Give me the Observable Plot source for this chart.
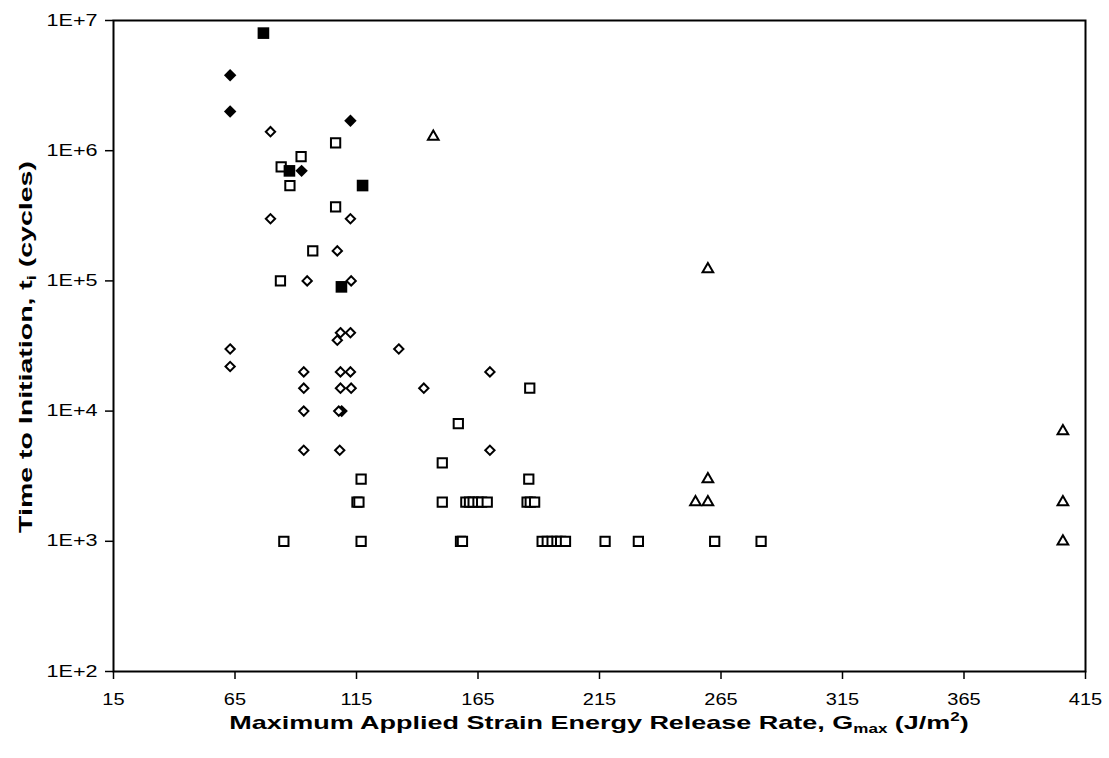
<!DOCTYPE html>
<html>
<head>
<meta charset="utf-8">
<script src="https://cdn.jsdelivr.net/npm/d3@7"></script>
<script src="https://cdn.jsdelivr.net/npm/@observablehq/plot@0.6"></script>
<style>
  html, body { margin: 0; padding: 0; background: #fff; }
  #chart { width: 1109px; height: 758px; }
</style>
</head>
<body>
<div id="chart"></div>
<script>
// ---- Data ----
const xTicks = [15, 65, 115, 165, 215, 265, 315, 365, 415];
const yTicks = [1e2, 1e3, 1e4, 1e5, 1e6, 1e7];

// filled diamonds
const filledDiamondG = [63, 63, 112.5, 92.4, 108.9];
const filledDiamondT = [3.8e6, 2e6, 1.7e6, 7e5, 1e4];

// filled squares
const filledSquareG = [76.7, 87.4, 117.5, 108.8];
const filledSquareT = [8e6, 7e5, 5.4e5, 9e4];

// open diamonds
const openDiamondG = [79.6, 79.6, 112.5, 107.1, 94.7, 112.8, 108.4, 112.5, 107.1, 63, 132.4, 63,
  93.3, 108.4, 112.5, 93.3, 108.4, 112.8, 93.3, 107.7, 93.3, 108.1, 169.9, 142.7, 169.9];
const openDiamondT = [1.4e6, 3e5, 3e5, 1.7e5, 1e5, 1e5, 4e4, 4e4, 3.5e4, 3e4, 3e4, 2.2e4,
  2e4, 2e4, 2e4, 1.5e4, 1.5e4, 1.5e4, 1e4, 1e4, 5e3, 5e3, 2e4, 1.5e4, 5e3];

// open squares
const openSquareG = [106.4, 92.2, 84, 87.6, 106.4, 97, 83.7, 116.9, 115.2, 116, 85.1, 116.9,
  186.3, 156.9, 150.3, 185.9, 150.3,
  160, 161.5, 163, 165, 166.5, 168.8, 185.2, 186.5, 188.3,
  157.8, 158.6, 191.4, 193.5, 195.5, 197.5, 199, 201, 217.3, 231, 262.4, 281.5];
const openSquareT = [1.15e6, 9e5, 7.5e5, 5.4e5, 3.7e5, 1.7e5, 1e5, 3e3, 2e3, 2e3, 1e3, 1e3,
  1.5e4, 8e3, 4e3, 3e3, 2e3,
  2e3, 2e3, 2e3, 2e3, 2e3, 2e3, 2e3, 2e3, 2e3,
  1e3, 1e3, 1e3, 1e3, 1e3, 1e3, 1e3, 1e3, 1e3, 1e3, 1e3, 1e3];

// open triangles
const triangleG = [146.6, 259.6, 259.6, 254.5, 259.6, 405.7, 405.7, 405.7];
const triangleT = [1.28e6, 1.23e5, 3e3, 2e3, 2e3, 7e3, 2e3, 1e3];

const toRows = (xs, ys) => xs.map((g, i) => ({g, t: ys[i]}));

const chart = Plot.plot({
  width: 1109,
  height: 758,
  marginLeft: 113,
  marginRight: 24,
  marginTop: 20,
  marginBottom: 87,
  style: {
    fontFamily: "'Liberation Sans', Arial, sans-serif",
    fontSize: "16px",
    color: "black",
    background: "white",
    overflow: "visible"
  },
  x: {domain: [15, 415], ticks: xTicks, tickSize: 8, tickPadding: 14, label: null, tickFormat: d => String(d)},
  y: {type: "log", domain: [1e2, 1e7], ticks: yTicks, tickSize: 8, tickPadding: 8, label: null,
      tickFormat: d => "1E+" + Math.round(Math.log10(d))},
  marks: [
    Plot.frame({stroke: "black", strokeWidth: 2}),
    Plot.dot(toRows(openSquareG, openSquareT), {x: "g", y: "t", symbol: d3.symbolSquare2, r: 5.9, fill: "white", stroke: "black", strokeWidth: 2}),
    Plot.dot(toRows(filledSquareG, filledSquareT), {x: "g", y: "t", symbol: d3.symbolSquare2, r: 7.4, fill: "black", stroke: "none"}),
    Plot.dot(toRows(filledDiamondG, filledDiamondT), {x: "g", y: "t", symbol: d3.symbolDiamond2, r: 5.6, fill: "black", stroke: "none"}),
    Plot.dot(toRows(openDiamondG, openDiamondT), {x: "g", y: "t", symbol: d3.symbolDiamond2, r: 4.2, fill: "white", stroke: "black", strokeWidth: 2}),
    Plot.dot(toRows(triangleG, triangleT), {x: "g", y: "t", symbol: d3.symbolTriangle2, r: 5.1, fill: "white", stroke: "black", strokeWidth: 2})
  ]
});

document.getElementById("chart").appendChild(chart);

// stretch tick labels horizontally as in the reference
chart.querySelectorAll('g[aria-label="y-axis tick label"] text').forEach(t => {
  const tr = t.getAttribute("transform") || "";
  t.setAttribute("transform", tr + " scale(1.35,1)");
});
chart.querySelectorAll('g[aria-label="x-axis tick label"] text').forEach(t => {
  const tr = t.getAttribute("transform") || "";
  t.setAttribute("transform", tr + " scale(1.25,1)");
});
chart.querySelectorAll('g[aria-label$="tick"]').forEach(g => g.setAttribute("stroke-width", "1.5"));

const svg = d3.select(chart);
// y axis title
const yt = svg.append("text")
  .attr("transform", "translate(32,347) rotate(-90) scale(1.5,1)")
  .attr("text-anchor", "middle")
  .attr("font-weight", "bold")
  .attr("font-size", 19)
  .attr("fill", "black");
yt.append("tspan").text("Time to Initiation, t");
yt.append("tspan").attr("font-size", 12).attr("dy", 4).text("i");
yt.append("tspan").attr("dy", -4).text(" (cycles)");

// x axis title
const xt = svg.append("text")
  .attr("transform", "translate(599,729) scale(1.42,1)")
  .attr("text-anchor", "middle")
  .attr("font-weight", "bold")
  .attr("font-size", 19)
  .attr("fill", "black");
xt.append("tspan").text("Maximum Applied Strain Energy Release Rate, G");
xt.append("tspan").attr("font-size", 12).attr("dy", 4).text("max");
xt.append("tspan").attr("dy", -4).text(" (J/m");
xt.append("tspan").attr("font-size", 12).attr("dy", -8).text("2");
xt.append("tspan").attr("dy", 8).text(")");
</script>
</body>
</html>
